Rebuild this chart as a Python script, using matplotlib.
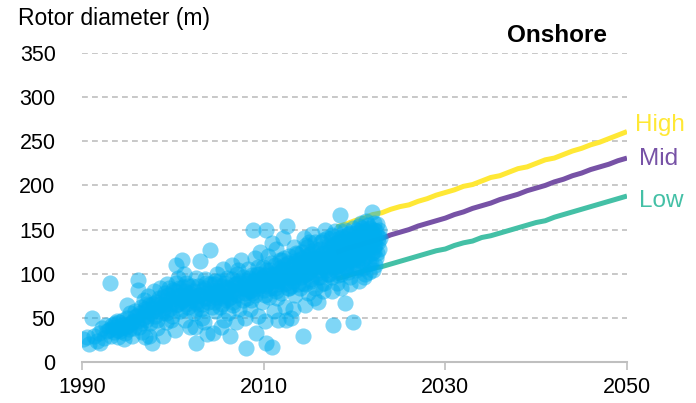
import matplotlib
matplotlib.use("Agg")
import matplotlib.pyplot as plt

plt.rcParams["font.family"] = ["Liberation Sans", "DejaVu Sans"]

# Installed onshore projects: commissioning year and rotor diameter (m)
proj_year = [
    1990.1, 1990.8, 1991.1, 1990.5, 1991.3, 1991.6, 1991.9, 1992.2, 1992.4, 1992.6, 1992.8, 1992.0,
    1993.1, 1993.2, 1993.4, 1993.6, 1993.8, 1994.0, 1994.1, 1994.3, 1994.5, 1994.7, 1994.9, 1995.1,
    1995.3, 1995.5, 1995.6, 1995.8, 1995.2, 1994.6,
    1996.2, 1996.2, 1996.0, 1996.3, 1996.5, 1996.6, 1996.8, 1997.0, 1997.1, 1997.3, 1997.5, 1997.7,
    1997.8, 1997.9, 1998.0, 1998.2, 1998.3, 1998.5, 1998.6, 1998.8, 1998.9, 1997.4, 1996.9,
    1999.0, 1999.1, 1999.3, 1999.4, 1999.6, 1999.7, 1999.9, 2000.0, 2000.2, 2000.4, 2000.5, 2000.6,
    2000.8, 2000.9, 2001.0, 2001.1, 2001.3, 2001.4, 2001.5, 2001.7, 2001.8, 2001.9, 2000.3, 1999.8,
    2001.2,
    2002.0, 2002.1, 2002.3, 2002.5, 2002.6, 2002.7, 2002.9, 2003.0, 2003.1, 2003.3, 2003.4, 2003.5,
    2003.7, 2003.8, 2003.9, 2004.1, 2004.2, 2004.4, 2004.5, 2004.6, 2004.8, 2004.9, 2003.2, 2002.4,
    2004.3,
    2005.0, 2005.1, 2005.2, 2005.4, 2005.5, 2005.6, 2005.8, 2005.9, 2006.0, 2006.1, 2006.3, 2006.4,
    2006.5, 2006.6, 2006.8, 2006.9, 2007.0, 2007.1, 2007.3, 2007.4, 2007.5, 2007.7, 2007.8, 2007.9,
    2006.2, 2005.3,
    2008.0, 2008.1, 2008.2, 2008.3, 2008.4, 2008.5, 2008.6, 2008.8, 2008.9, 2009.0, 2009.1, 2009.2,
    2009.3, 2009.4, 2009.5, 2009.6, 2009.7, 2009.8, 2009.9, 2010.0, 2010.1, 2010.2, 2010.3, 2010.3,
    2010.4, 2010.5, 2010.6, 2010.7, 2010.8, 2010.9, 2010.9, 2009.0, 2008.7,
    2011.0, 2011.1, 2011.2, 2011.3, 2011.4, 2011.5, 2011.6, 2011.7, 2011.8, 2011.9, 2012.0, 2012.1,
    2012.2, 2012.3, 2012.4, 2012.5, 2012.6, 2012.7, 2012.8, 2012.9, 2013.0, 2013.1, 2013.2, 2013.3,
    2013.4, 2013.5, 2013.6, 2013.7, 2013.8, 2013.9, 2011.5, 2012.5, 2013.2, 2012.0,
    2014.0, 2014.1, 2014.2, 2014.3, 2014.3, 2014.4, 2014.5, 2014.6, 2014.7, 2014.8, 2014.9, 2015.0,
    2015.1, 2015.2, 2015.3, 2015.4, 2015.5, 2015.6, 2015.7, 2015.8, 2015.9, 2016.0, 2016.1, 2016.2,
    2016.3, 2016.4, 2016.5, 2016.6, 2016.7, 2016.8, 2016.9, 2014.5, 2015.5, 2016.5, 2015.0, 2014.0,
    2017.0, 2017.1, 2017.2, 2017.3, 2017.4, 2017.5, 2017.6, 2017.6, 2017.7, 2017.8, 2017.9, 2018.0,
    2018.1, 2018.2, 2018.3, 2018.4, 2018.4, 2018.5, 2018.6, 2018.7, 2018.8, 2018.9, 2018.9, 2019.0,
    2019.1, 2019.2, 2019.3, 2019.4, 2019.5, 2019.6, 2019.7, 2019.8, 2019.8, 2019.9, 2017.5, 2018.5,
    2019.5, 2017.0, 2018.0, 2019.0,
    2020.0, 2020.1, 2020.2, 2020.3, 2020.4, 2020.5, 2020.6, 2020.7, 2020.8, 2020.9, 2021.0, 2021.1,
    2021.2, 2021.3, 2021.4, 2021.5, 2021.6, 2021.7, 2021.8, 2021.9, 2022.0, 2022.1, 2022.2, 2022.3,
    2022.4, 2022.5, 2022.6, 2020.5, 2021.0, 2022.0,
]
proj_rotor = [
    26, 20, 50, 28, 30, 24, 33, 38, 27, 42, 35, 22,
    90, 30, 40, 44, 36, 28, 45, 38, 48, 33, 65, 42,
    55, 30, 47, 58, 37, 26,
    93, 81, 52, 40, 62, 34, 70, 48, 58, 75, 44, 21,
    66, 80, 52, 60, 38, 72, 84, 55, 30, 30, 28,
    65, 78, 45, 88, 60, 70, 52, 82, 36, 110, 75, 95,
    58, 68, 116, 85, 48, 72, 90, 62, 78, 40, 65, 48,
    100,
    70, 86, 55, 95, 21, 66, 76, 114, 60, 82, 45, 72,
    90, 32, 68, 127, 78, 33, 88, 58, 74, 100, 50, 40,
    62,
    80, 92, 62, 75, 105, 48, 85, 70, 95, 56, 30, 82,
    110, 65, 88, 45, 77, 100, 60, 90, 115, 70, 84, 50,
    72, 40,
    88, 16, 72, 105, 95, 60, 82, 150, 92, 118, 76, 33,
    100, 52, 86, 125, 94, 68, 108, 82, 46, 98, 150, 21,
    88, 120, 74, 104, 92, 17, 135, 90, 78,
    96, 58, 110, 84, 128, 100, 48, 92, 115, 78, 104, 140,
    88, 62, 110, 96, 154, 84, 120, 100, 50, 108, 92, 130,
    114, 76, 100, 122, 88, 106, 72, 48, 60, 116,
    112, 96, 125, 30, 104, 140, 88, 116, 100, 130, 78, 110,
    122, 94, 145, 106, 118, 84, 128, 100, 112, 68, 120, 96,
    136, 108, 124, 90, 114, 150, 104, 64, 72, 80, 136, 84,
    118, 100, 132, 112, 140, 96, 42, 124, 108, 148, 116, 128,
    90, 136, 110, 167, 122, 100, 142, 126, 114, 67, 150, 132,
    106, 120, 145, 128, 96, 138, 116, 45, 152, 126, 80, 84,
    88, 140, 108, 112,
    140, 118, 130, 150, 108, 136, 124, 158, 114, 142, 128, 148,
    100, 136, 120, 155, 130, 144, 112, 170, 138, 126, 150, 132,
    118, 156, 142, 92, 96, 104,
]

# Additional projects packed around the typical size for each year
core_year = [
    1993.0, 1993.3, 1993.5, 1993.7, 1993.9, 1994.2, 1994.4, 1994.8, 1995.0, 1995.4, 1995.7, 1995.9,
    1996.1, 1996.4, 1996.7, 1996.9, 1997.2, 1997.4, 1997.6, 1997.9, 1998.1, 1998.4, 1998.7, 1998.9,
    1996.5, 1997.0, 1998.3,
    1999.1, 1999.3, 1999.5, 1999.8, 2000.0, 2000.2, 2000.5, 2000.7, 2000.9, 2001.1, 2001.3, 2001.5,
    2001.7, 2001.9, 1999.6, 2000.4, 2001.0, 1999.2,
    2002.1, 2002.3, 2002.5, 2002.8, 2003.0, 2003.2, 2003.4, 2003.6, 2003.9, 2004.1, 2004.3, 2004.5,
    2004.7, 2004.9, 2002.6, 2003.5, 2004.6,
    2005.1, 2005.3, 2005.5, 2005.7, 2005.9, 2006.1, 2006.3, 2006.5, 2006.7, 2006.9, 2007.1, 2007.3,
    2007.5, 2007.7, 2007.9, 2005.4, 2006.6, 2007.2,
    2008.1, 2008.3, 2008.5, 2008.7, 2008.9, 2009.1, 2009.3, 2009.5, 2009.7, 2009.9, 2010.1, 2010.3,
    2010.5, 2010.7, 2010.9, 2008.6, 2009.4, 2010.2, 2010.8,
    2011.1, 2011.3, 2011.5, 2011.7, 2011.9, 2012.1, 2012.3, 2012.5, 2012.7, 2012.9, 2013.1, 2013.3,
    2013.5, 2013.7, 2013.9, 2011.4, 2012.2, 2013.0, 2013.6, 2012.8,
    2014.1, 2014.2, 2014.4, 2014.6, 2014.8, 2015.0, 2015.1, 2015.3, 2015.5, 2015.7, 2015.9, 2016.1,
    2016.2, 2016.4, 2016.6, 2016.8, 2016.9, 2014.3, 2015.2, 2016.0, 2014.7, 2015.6, 2016.5, 2016.3,
    2017.0, 2017.1, 2017.3, 2017.4, 2017.6, 2017.7, 2017.9, 2018.0, 2018.1, 2018.3, 2018.4, 2018.6,
    2018.7, 2018.8, 2019.0, 2019.1, 2019.2, 2019.4, 2019.5, 2019.6, 2019.7, 2019.9, 2017.2, 2017.8,
    2018.2, 2018.9, 2019.3, 2019.8, 2017.5, 2018.5,
    2020.0, 2020.1, 2020.2, 2020.3, 2020.4, 2020.6, 2020.7, 2020.8, 2020.9, 2021.0, 2021.1, 2021.2,
    2021.3, 2021.4, 2021.5, 2021.6, 2021.7, 2021.8, 2021.9, 2022.0, 2022.1, 2022.2, 2022.3, 2022.4,
    2022.5, 2022.6, 2022.7, 2022.8, 2020.2, 2020.9, 2021.6, 2022.3, 2022.7, 2020.5, 2021.3,
]
core_rotor = [
    36, 42, 34, 40, 46, 35, 42, 40, 50, 44, 38, 52,
    46, 55, 50, 60, 52, 64, 56, 62, 68, 58, 66, 74,
    44, 66, 48,
    62, 70, 76, 66, 72, 80, 66, 84, 76, 70, 80, 66,
    86, 74, 84, 90, 60, 55,
    74, 80, 68, 86, 76, 66, 84, 78, 72, 88, 76, 68,
    82, 78, 60, 94, 92,
    78, 86, 72, 90, 80, 84, 74, 94, 80, 88, 76, 92,
    84, 96, 78, 66, 68, 104,
    84, 92, 80, 98, 86, 94, 84, 100, 88, 96, 86, 104,
    94, 84, 100, 70, 108, 76, 112,
    92, 100, 88, 106, 96, 98, 104, 90, 112, 96, 104, 96,
    112, 102, 116, 80, 118, 86, 124, 84,
    106, 118, 98, 110, 120, 102, 114, 126, 108, 118, 104, 112,
    128, 118, 106, 124, 114, 90, 92, 96, 132, 136, 138, 88,
    110, 124, 118, 130, 114, 134, 122, 116, 130, 140, 112, 126,
    136, 120, 140, 124, 134, 116, 146, 128, 138, 118, 100, 104,
    98, 106, 102, 108, 144, 148,
    126, 136, 146, 116, 130, 140, 122, 152, 132, 140, 118, 134,
    146, 128, 140, 112, 152, 136, 124, 146, 158, 130, 140, 148,
    124, 136, 150, 140, 104, 106, 102, 110, 128, 154, 160,
]

# Outlook scenarios, yearly
scen_years = list(range(2018, 2051))
high_rotor = [153, 156, 160, 163, 167, 169, 173, 176, 178, 182, 185, 189, 192, 195, 199, 201, 205,
              209, 211, 215, 219, 221, 225, 229, 231, 235, 239, 242, 246, 249, 253, 257, 261]
mid_rotor = [124, 128, 131, 134, 137, 140, 144, 147, 150, 154, 157, 160, 163, 167, 170, 174, 177,
             180, 184, 187, 190, 194, 197, 200, 204, 207, 211, 214, 218, 221, 224, 228, 231]
low_rotor = [94, 97, 100, 103, 106, 108, 111, 114, 117, 120, 123, 126, 128, 132, 135, 137, 141,
             143, 146, 149, 152, 155, 158, 160, 164, 167, 170, 173, 176, 179, 182, 185, 188]

x_ticks = [1990, 2010, 2030, 2050]
y_ticks = [0, 50, 100, 150, 200, 250, 300, 350]

SCATTER_C = "#00AEEF"
HIGH_C = "#FFE835"
MID_C = "#7752A6"
LOW_C = "#44C0A6"
GRID_C = "#BFBFBF"

fig = plt.figure(figsize=(6.96, 4.03), dpi=100)
ax = fig.add_axes([82 / 696, 1 - 362 / 403, 545 / 696, 309 / 403])

ax.plot(scen_years, high_rotor, color=HIGH_C, lw=3.6, zorder=2, solid_capstyle="butt")
ax.plot(scen_years, mid_rotor, color=MID_C, lw=3.6, zorder=2, solid_capstyle="butt")
ax.plot(scen_years, low_rotor, color=LOW_C, lw=3.6, zorder=2, solid_capstyle="butt")
ax.scatter(proj_year + core_year, proj_rotor + core_rotor, s=135, color=SCATTER_C,
           alpha=0.5, linewidths=0, zorder=3)

ax.set_xlim(1990, 2050)
ax.set_ylim(0, 350)
ax.set_xticks(x_ticks)
ax.set_yticks(y_ticks)
ax.tick_params(axis="x", length=6, width=1.2, color=GRID_C, labelsize=15.5, pad=5)
ax.tick_params(axis="y", length=0, labelsize=15.5, pad=19)

for v in y_ticks[1:]:
    ax.axhline(v, color=GRID_C, lw=1.2, ls=(0, (3.5, 2.5)), zorder=1)

for side in ("top", "right", "left"):
    ax.spines[side].set_visible(False)
ax.spines["bottom"].set_color(GRID_C)
ax.spines["bottom"].set_linewidth(1.5)

ax.text(2050.9, 269, "High", color=HIGH_C, fontsize=17.5,
        va="center", ha="left", clip_on=False)
ax.text(2051.3, 229.5, "Mid", color=MID_C, fontsize=17.5,
        va="center", ha="left", clip_on=False)
ax.text(2051.3, 182, "Low", color=LOW_C, fontsize=17.5,
        va="center", ha="left", clip_on=False)

fig.text(18 / 696, 1 - 18 / 403, "Rotor diameter (m)", fontsize=16.5, va="center", ha="left")
fig.text(557 / 696, 1 - 35 / 403, "Onshore", fontsize=17.5, fontweight="bold",
         va="center", ha="center")

fig.savefig("out.png", dpi=100)
